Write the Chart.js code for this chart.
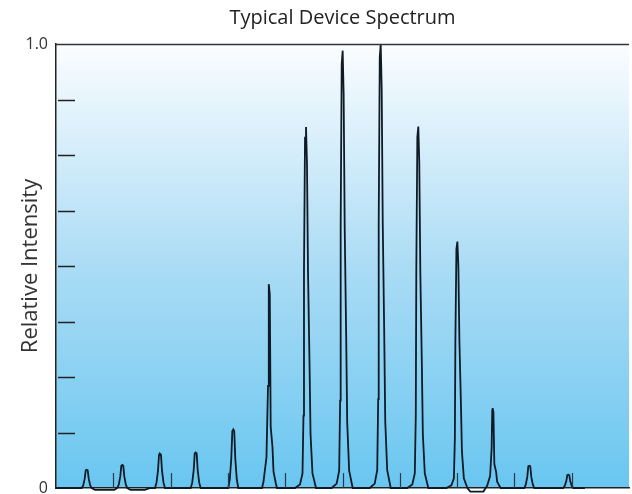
<!DOCTYPE html>
<html><head><meta charset="utf-8">
<script src="https://cdn.jsdelivr.net/npm/chart.js@4.4.0/dist/chart.umd.min.js"></script>
<style>html,body{margin:0;padding:0;background:#fff}#wrap{width:632px;height:494px}</style>
</head><body><div id="wrap"><canvas id="c" width="632" height="494"></canvas></div>
<script>
const chartTitle = 'Typical Device Spectrum';
const yAxisTitle = 'Relative Intensity';
const yTickLabels = { 0: '0', 1: '1.0' };

const channel = [
  0, 3.5,
  4.49, 4.75, 5.01, 5.19, 5.36, 5.53, 5.71, 5.97, 6.23,
  6.8, 10.2,
  10.70, 10.96, 11.22, 11.40, 11.57, 11.74, 11.92, 12.18, 12.44,
  13.0, 15.5, 16.5,
  17.28, 17.54, 17.80, 17.98, 18.15, 18.32, 18.50, 18.76, 19.02,
  23.51, 23.77, 24.03, 24.21, 24.38, 24.55, 24.73, 24.99, 25.25,
  30.07, 30.33, 30.59, 30.77, 30.94, 31.11, 31.29, 31.55, 31.81,
  35.95, 36.21, 36.73, 37.00, 37.10, 37.17, 37.31, 37.47, 37.78, 37.96, 38.39, 38.57,
  41.71, 42.58, 43.02, 43.19, 43.28, 43.46, 43.63, 43.80, 43.98, 44.24, 44.42, 44.76, 45.38,
  48.11, 48.98, 49.42, 49.59, 49.68, 49.86, 50.03, 50.20, 50.38, 50.64, 50.82, 51.16, 51.78,
  54.75, 55.62, 56.06, 56.23, 56.32, 56.50, 56.67, 56.84, 57.02, 57.28, 57.46, 57.80, 58.42,
  61.31, 62.18, 62.62, 62.79, 62.88, 63.06, 63.23, 63.40, 63.58, 63.84, 64.02, 64.36, 64.98,
  68.13, 69.00, 69.44, 69.61, 69.70, 69.88, 70.05, 70.22, 70.40, 70.66, 70.84, 71.18, 71.80,
  72.3, 74.6,
  74.98, 75.24, 75.76, 76.03, 76.13, 76.20, 76.34, 76.50, 76.81, 76.99, 77.42, 77.60,
  81.73, 81.99, 82.25, 82.43, 82.60, 82.77, 82.95, 83.21, 83.47,
  88.53, 88.79, 89.05, 89.23, 89.40, 89.57, 89.75, 90.01, 90.27,
  92.3
];
const intensity = [
  0, 0,
  0, 0.006, 0.021, 0.040, 0.041, 0.040, 0.021, 0.006, 0,
  -0.004, -0.004,
  0, 0.008, 0.026, 0.050, 0.052, 0.050, 0.026, 0.008, 0,
  -0.004, -0.004, 0,
  0, 0.012, 0.039, 0.075, 0.077, 0.075, 0.039, 0.012, 0,
  0, 0.012, 0.040, 0.078, 0.080, 0.078, 0.040, 0.012, 0,
  0, 0.020, 0.066, 0.128, 0.132, 0.128, 0.066, 0.020, 0,
  0, 0.014, 0.069, 0.230, 0.445, 0.459, 0.436, 0.138, 0.092, 0.037, 0.009, 0,
  0, 0.008, 0.033, 0.163, 0.488, 0.789, 0.813, 0.732, 0.488, 0.285, 0.122, 0.033, 0,
  0, 0.010, 0.039, 0.197, 0.591, 0.955, 0.985, 0.887, 0.591, 0.345, 0.148, 0.039, 0,
  0, 0.010, 0.040, 0.200, 0.600, 0.970, 1.000, 0.900, 0.600, 0.350, 0.150, 0.040, 0,
  0, 0.008, 0.033, 0.163, 0.488, 0.790, 0.814, 0.733, 0.488, 0.285, 0.122, 0.033, 0,
  0, 0.006, 0.022, 0.111, 0.333, 0.538, 0.555, 0.500, 0.333, 0.194, 0.083, 0.022, 0,
  -0.008, -0.008,
  0, 0.005, 0.027, 0.090, 0.175, 0.180, 0.171, 0.054, 0.036, 0.014, 0.004, 0,
  0, 0.008, 0.025, 0.049, 0.050, 0.049, 0.025, 0.008, 0,
  0, 0.005, 0.015, 0.029, 0.030, 0.029, 0.015, 0.005, 0,
  0
];

const points = channel.map((x, i) => ({ x: x, y: intensity[i] }));

const backdrop = {
  id: 'backdrop',
  beforeDraw(chart) {
    const { ctx, chartArea: a } = chart;
    const g = ctx.createLinearGradient(0, a.top, 0, a.bottom);
    g.addColorStop(0, '#fbfdff');
    g.addColorStop(0.5, '#abdcf5');
    g.addColorStop(1, '#69c6f0');
    ctx.save();
    ctx.fillStyle = g;
    ctx.fillRect(a.left, a.top, a.right - a.left, a.bottom - a.top);
    ctx.restore();
  }
};

const innerTicks = {
  id: 'innerTicks',
  afterDraw(chart) {
    const { ctx, chartArea: a, scales } = chart;
    ctx.save();
    ctx.strokeStyle = '#222';
    ctx.lineWidth = 1.5;
    scales.y.ticks.forEach(t => {
      if (t.value <= 0 || t.value >= 1) return;
      const y = Math.round(scales.y.getPixelForValue(t.value)) + 0.5;
      ctx.beginPath(); ctx.moveTo(a.left + 2, y); ctx.lineTo(a.left + 19, y); ctx.stroke();
    });
    ctx.lineWidth = 1.2;
    ctx.strokeStyle = '#2a3a48';
    scales.x.ticks.forEach(t => {
      if (t.value <= 0 || t.value >= 100) return;
      const x = Math.round(scales.x.getPixelForValue(t.value)) + 0.5;
      ctx.beginPath(); ctx.moveTo(x, a.bottom); ctx.lineTo(x, a.bottom - 15); ctx.stroke();
    });
    ctx.strokeStyle = '#333';
    ctx.lineWidth = 1.3;
    ctx.beginPath(); ctx.moveTo(a.left, a.top + 0.5); ctx.lineTo(a.right, a.top + 0.5); ctx.stroke();
    ctx.restore();
  }
};

new Chart(document.getElementById('c'), {
  type: 'line',
  data: {
    datasets: [{
      data: points,
      borderColor: '#0e1b26',
      borderWidth: 1.8,
      pointRadius: 0,
      tension: 0,
      fill: false,
      clip: { left: 1, top: 2, right: 1, bottom: 5 }
    }]
  },
  plugins: [backdrop, innerTicks],
  options: {
    responsive: false,
    animation: false,
    layout: { padding: { left: 0, right: 3, top: 0, bottom: 0 } },
    plugins: {
      legend: { display: false },
      tooltip: { enabled: false },
      title: {
        display: true,
        text: chartTitle,
        fullSize: false,
        color: '#222',
        font: { family: 'Open Sans', size: 20, weight: 'normal', lineHeight: 1.2 },
        padding: { top: 6, bottom: 14 }
      }
    },
    scales: {
      x: {
        type: 'linear',
        min: 0, max: 100,
        ticks: { display: false, stepSize: 10 },
        grid: { display: false },
        border: { display: true, color: '#222', width: 1.5 },
        afterFit(s) { s.height = 6; s.paddingLeft = 0; s.paddingRight = 0; }
      },
      y: {
        min: 0, max: 1,
        ticks: {
          stepSize: 0.125,
          autoSkip: false,
          padding: 8,
          color: '#333',
          font: { family: 'Open Sans', size: 16 },
          callback: v => (yTickLabels[v] !== undefined ? yTickLabels[v] : '')
        },
        grid: { display: false, drawTicks: false },
        border: { display: true, color: '#222', width: 1.5 },
        title: {
          display: true,
          text: yAxisTitle,
          color: '#333',
          font: { family: 'Open Sans', size: 22, weight: 'normal', lineHeight: 1.2 },
          padding: { top: 18, bottom: 0 }
        },
        afterFit(s) { s.width = 56; s.paddingTop = 0; s.paddingBottom = 0; }
      }
    }
  }
});
</script></body></html>
